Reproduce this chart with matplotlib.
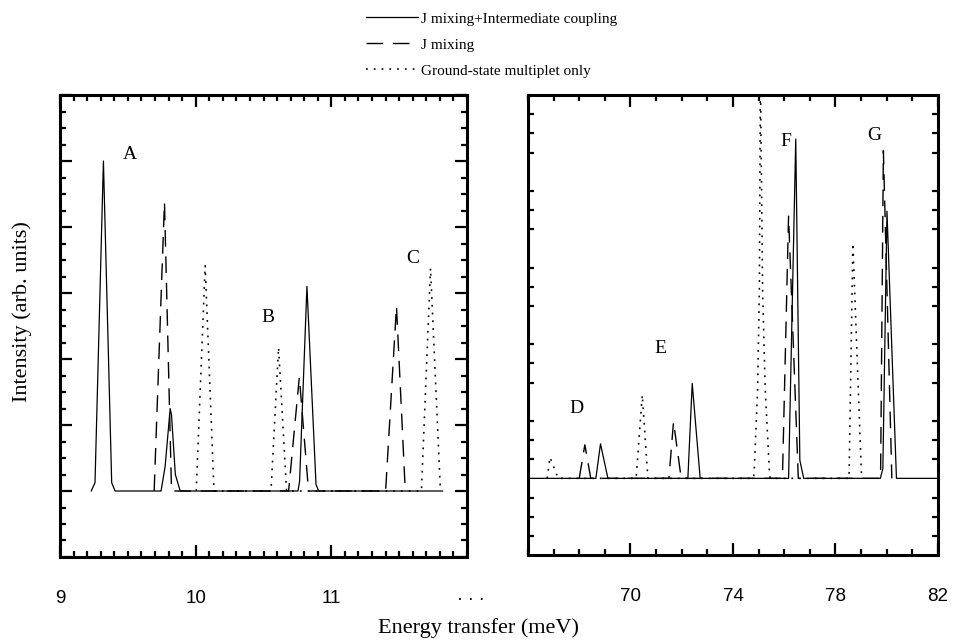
import numpy as np
import matplotlib.pyplot as plt
from matplotlib.ticker import MultipleLocator, FixedLocator

plt.rcParams["font.family"] = ["Liberation Serif", "DejaVu Serif"]
plt.rcParams["lines.scale_dashes"] = False

# |>- Data (energy in meV, intensity in arb. units) -<|

# low-energy panel: A, B, C
solid_left_x = [9.23, 9.258, 9.32, 9.381, 9.406, 9.745, 9.775, 9.812, 9.822, 9.85, 9.886,
                10.754, 10.766, 10.82, 10.887, 10.906, 11.82]
solid_left_y = [0, 0.5, 20.0, 0.5, 0, 0, 1.5, 5.0, 4.6, 1.0, 0,
                0, 0.6, 12.4, 0.4, 0, 0]

dashed_left_x = [9.694, 9.77, 9.822, 10.685, 10.764, 10.832, 11.40, 11.48, 11.545]
dashed_left_y = [0, 17.5, 0, 0, 6.9, 0, 0, 11.2, 0]

dotted_left_x = [10.004, 10.07, 10.135, 10.555, 10.611, 10.67, 11.664, 11.731, 11.804]
dotted_left_y = [0, 13.66, 0, 0, 8.7, 0, 0, 13.5, 0]

# high-energy panel: D, E, F, G
solid_right_x = [66.0, 68.65, 68.83, 69.12, 72.24, 72.41, 72.72, 76.17, 76.45, 76.61, 76.76,
                 79.75, 79.85, 80.01, 80.38, 82.0]
solid_right_y = [0, 0, 1.8, 0, 0, 4.95, 0, 0, 17.7, 0.94, 0,
                 0, 0.5, 13.94, 0, 0]

dashed_right_x = [68.0, 68.22, 68.45, 71.5, 71.68, 71.98, 75.93, 76.17, 76.55, 79.76, 79.87, 80.2]
dashed_right_y = [0, 1.75, 0, 0, 2.95, 0, 0, 13.68, 0, 0, 17.1, 0]

dotted_right_x = [66.75, 66.86, 67.18, 70.22, 70.46, 70.68,
                  74.8, 74.83, 74.96, 75.03, 75.05, 75.07, 75.117, 75.156, 75.26, 75.42, 75.45,
                  78.53, 78.68, 79.02]
dotted_right_y = [0, 1.1, 0, 0, 4.35, 0,
                  0, 0.4, 4.6, 9.84, 15.1, 21.0, 15.1, 9.84, 4.6, 0.4, 0,
                  0, 12.27, 0]

peak_labels = ["A", "B", "C", "D", "E", "F", "G"]
label_x = [9.517, 10.535, 11.598, 67.9, 71.17, 76.08, 79.5]
label_y = [20.4, 10.5, 14.1, 3.66, 6.8, 17.6, 17.9]

left_ticklabels = ["9", "10", "11"]
right_ticklabels = ["70", "74", "78", "82"]

series_names = ["J mixing+Intermediate coupling", "J mixing", "Ground-state multiplet only"]

# |>- Figure -<|

fig = plt.figure(figsize=(9.57, 6.42), dpi=100)
ax1 = fig.add_axes([0.0627, 0.1324, 0.4253, 0.7196])
ax2 = fig.add_axes([0.5517, 0.1355, 0.4284, 0.7165])

lw = 0.9
dash = (0, (12, 7))
dot = (0, (1.3, 4.3))

for ax, sx, sy, dx, dy, ox, oy in [
    (ax1, solid_left_x, solid_left_y, dashed_left_x, dashed_left_y, dotted_left_x, dotted_left_y),
    (ax2, solid_right_x, solid_right_y, dashed_right_x, dashed_right_y, dotted_right_x, dotted_right_y),
]:
    ax.plot(sx, sy, color="black", lw=lw, label=series_names[0])
    ax.plot(dx, dy, color="black", lw=1.0, linestyle=dash, label=series_names[1])
    ax.plot(ox, oy, color="black", lw=1.15, linestyle=dot, label=series_names[2])

for i, txt in enumerate(peak_labels):
    ax = ax1 if i < 3 else ax2
    ax.text(label_x[i], label_y[i], txt, fontsize=14, ha="center", va="center")

# |>- Axes formatting -<|

ax1.set_xlim(9, 12)
ax1.set_ylim(-4, 24)
ax1.xaxis.set_major_locator(FixedLocator([9, 10, 11]))
ax1.xaxis.set_minor_locator(MultipleLocator(0.1))
ax1.yaxis.set_major_locator(MultipleLocator(4))
ax1.yaxis.set_minor_locator(MultipleLocator(1))
ax1.set_xticklabels(left_ticklabels)

ax2.set_xlim(66, 82)
ax2.set_ylim(-4, 20)
ax2.xaxis.set_major_locator(FixedLocator([70, 74, 78, 82]))
ax2.xaxis.set_minor_locator(MultipleLocator(1))
ax2.yaxis.set_major_locator(FixedLocator([]))
ax2.yaxis.set_minor_locator(FixedLocator([v for v in range(-3, 20) if v % 4 != 0]))
ax2.set_xticklabels(right_ticklabels)

for ax in (ax1, ax2):
    for sp in ax.spines.values():
        sp.set_linewidth(2.2)
    ax.tick_params(which="both", direction="in", top=True, right=True, width=1.6)
    ax.tick_params(which="major", length=8.5)
    ax.tick_params(which="minor", length=4.5)
    ax.tick_params(axis="x", which="major", pad=24, labelsize=13.5)
    ax.tick_params(axis="y", labelleft=False)
    for lab in ax.get_xticklabels():
        lab.set_family(["Liberation Sans", "DejaVu Sans"])

fig.text(471 / 957, 1 - 600 / 642, "· · ·", fontsize=13, ha="center", va="center",
         family=["Liberation Sans", "DejaVu Sans"])
fig.text(478 / 957, 1 - 628 / 642, "Energy transfer (meV)", fontsize=16, ha="center", va="center")
fig.text(22 / 957, 1 - 312 / 642, "Intensity (arb. units)", fontsize=16, ha="center", va="center",
         rotation=90)

handles, labels = ax1.get_legend_handles_labels()
fig.legend(handles, labels, loc="upper left", bbox_to_anchor=(366 / 957, 1 - 12 / 642),
           frameon=False, fontsize=11, handlelength=3.4, handletextpad=0.2,
           labelspacing=0.8, borderpad=0, borderaxespad=0)

fig.savefig("out.png", dpi=100)
